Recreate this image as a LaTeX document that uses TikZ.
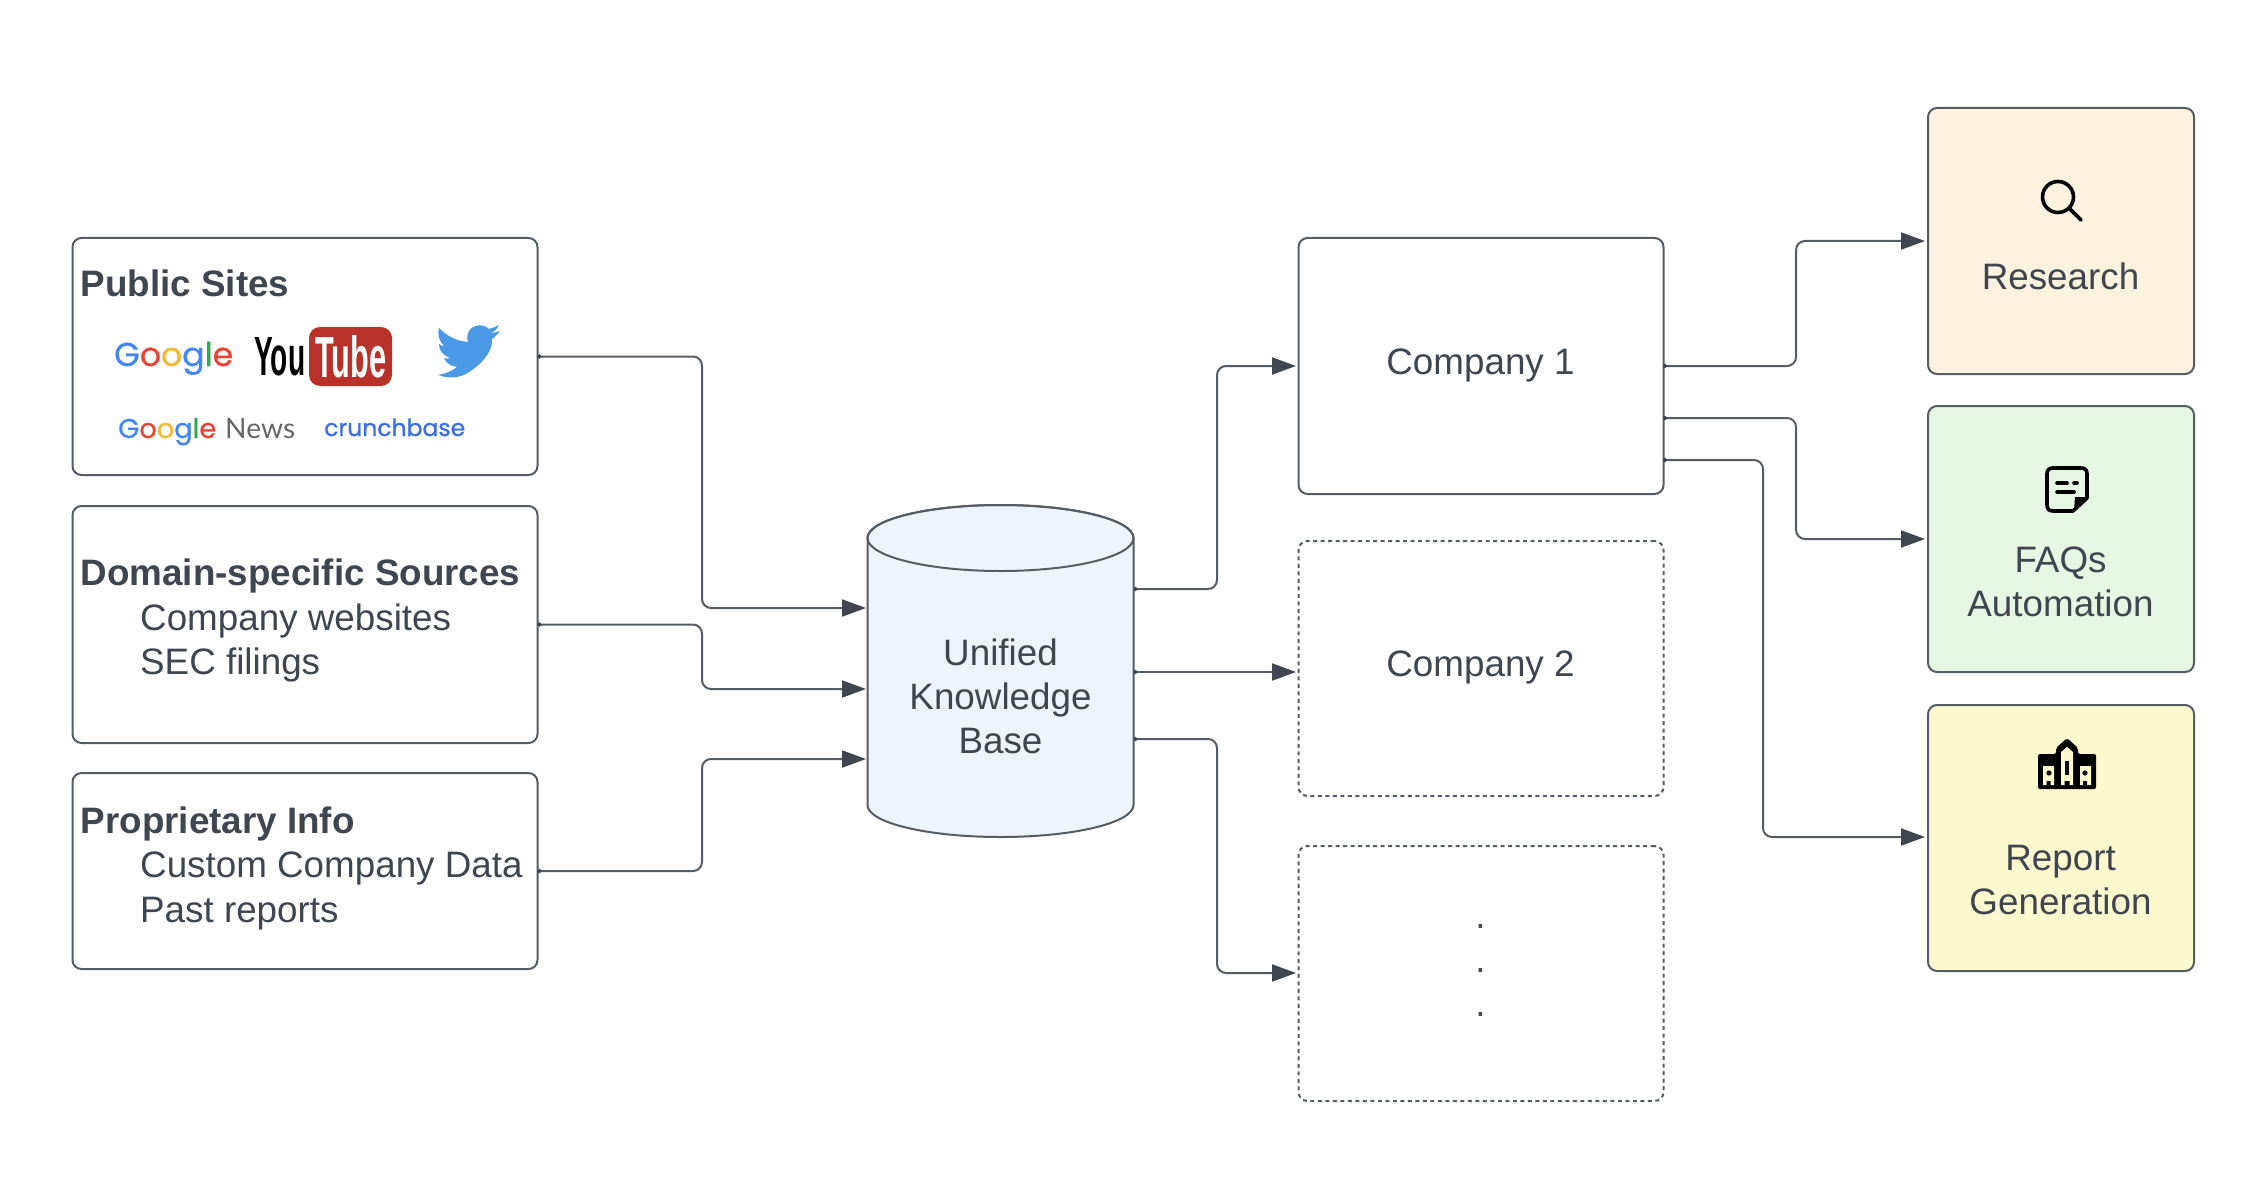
\documentclass[tikz,border=0pt]{standalone}
\usepackage{fontspec}
\usepackage{graphicx}
\setmainfont{Liberation Sans}
\newfontfamily\logofont[FakeBold=0.6]{Poppins}
\newfontfamily\newsfont{Lato}
\newfontfamily\cbfont[FakeBold=1]{Poppins}
\usetikzlibrary{arrows.meta,calc}
\definecolor{ink}{HTML}{3F464F}
\definecolor{edge}{HTML}{565C64}
\definecolor{gblue}{HTML}{4285F4}
\definecolor{gred}{HTML}{EA4335}
\definecolor{gyellow}{HTML}{F2B933}
\definecolor{ggreen}{HTML}{34A853}
\definecolor{ytred}{HTML}{B8322A}
\definecolor{twblue}{HTML}{4A99E6}
\definecolor{cbblue}{HTML}{3B6FE8}
\definecolor{kbfill}{HTML}{EDF4FE}
\definecolor{resfill}{HTML}{FDF2DE}
\definecolor{faqfill}{HTML}{E5F6E3}
\definecolor{repfill}{HTML}{FDF9CF}
\newcommand{\gword}{\textcolor{gblue}{G}\textcolor{gred}{o}\textcolor{gyellow}{o}\textcolor{gblue}{g}\textcolor{ggreen}{l}\textcolor{gred}{e}}
\tikzset{
  x=1pt,y=-1pt,
  box/.style={draw=edge,line width=2pt,rounded corners=9pt,anchor=north west,inner sep=0pt,outer sep=0pt},
  dbox/.style={box,dash pattern=on 4pt off 3.5pt},
  txt/.style={text=ink,font=\fontsize{36.8}{44}\selectfont,inner sep=0pt,align=center},
  ltxt/.style={txt,anchor=base west,align=left},
  btxt/.style={ltxt,font=\fontsize{36.8}{44}\selectfont\bfseries},
  conn/.style={draw=edge,line width=2pt,rounded corners=9pt,{Circle[length=4pt,width=4pt,color=ink]}-{Triangle[length=24pt,width=17pt,color=ink]}},
  icon/.style={draw=black,line width=3.6pt,line cap=round,line join=round},
  logo/.style={inner sep=0pt,anchor=base west}
}
\begin{document}
\begin{tikzpicture}
\useasboundingbox (0,0) rectangle (2266,1182);
\fill[white] (0,0) rectangle (2266,1182);
% source boxes
\node[box,minimum width=465pt,minimum height=237pt] (pub) at (72.5,238) {};
\node[box,minimum width=465pt,minimum height=237pt] (dom) at (72.5,506) {};
\node[box,minimum width=465pt,minimum height=196pt] (pro) at (72.5,773) {};
% source text
\node[btxt] (t1) at (80.5,296) {Public Sites};
\node[btxt] (t2) at (80.5,585) {Domain-specific Sources};
\node[ltxt] (t3) at (140,630) {Company websites};
\node[ltxt] (t4) at (140,674) {SEC filings};
\node[btxt] (t5) at (80.5,833) {Proprietary Info};
\node[ltxt] (t6) at (140,877.5) {Custom Company Data};
\node[ltxt] (t7) at (140,922) {Past reports};
% logos
\node[logo] (lg1) at (114,366) {\resizebox{119pt}{!}{\logofont\gword}};
\node[logo] (lg2) at (254,375) {\resizebox{51pt}{38pt}{\bfseries You}};
\fill[ytred,rounded corners=11pt] (309,327) rectangle (392,386);
\node[logo,text=white] (lg3) at (315,377) {\resizebox{71pt}{42pt}{\bfseries Tube}};
\node[logo] (lg4) at (118,438) {\resizebox{98pt}{!}{\logofont\gword}};
\node[logo,text=black!60] (lg5) at (225,438) {\resizebox{70pt}{!}{\newsfont News}};
\node[logo,text=cbblue] (lg6) at (324,436) {\resizebox{141pt}{!}{\cbfont crunchbase}};
% twitter bird
\fill[twblue] (438,375)
  .. controls (452,380) and (463,377) .. (472,370)
  .. controls (485,361) and (493,349) .. (492,339)
  .. controls (495,337) and (498,334) .. (500,331)
  .. controls (497,332) and (494,333) .. (491,333)
  .. controls (495,331) and (497,329) .. (499,325)
  .. controls (496,327) and (492,328) .. (489,329)
  .. controls (483,323) and (472,325) .. (469,331)
  .. controls (467,335) and (467,338) .. (468,342)
  .. controls (456,341) and (447,336) .. (439,328)
  .. controls (437,334) and (439,341) .. (444,346)
  .. controls (442,346) and (440,345) .. (439,344)
  .. controls (439,351) and (443,355) .. (450,358)
  .. controls (448,359) and (446,359) .. (444,358)
  .. controls (446,363) and (450,366) .. (457,367)
  .. controls (452,371) and (445,374) .. (438,375) -- cycle;
% knowledge base
\path[fill=kbfill,draw=edge,line width=2pt] (867.5,538) -- (867.5,805) arc[start angle=180,end angle=360,x radius=133,y radius=-32] -- (1133.5,538) arc[start angle=0,end angle=180,x radius=133,y radius=-33] -- cycle;
\draw[edge,line width=2pt] (1000.5,538) ellipse[x radius=133,y radius=33];
\node[txt] (kb) at (1000.5,696) {Unified\\Knowledge\\Base};
\coordinate (kbw) at (867.5,697);
\coordinate (kbe) at (1133.5,697);
% companies
\node[box,minimum width=365pt,minimum height=256pt] (c1) at (1298.5,238) {};
\node[dbox,minimum width=365pt,minimum height=255pt] (c2) at (1298.5,541) {};
\node[dbox,minimum width=365pt,minimum height=255pt] (c3) at (1298.5,846) {};
\node[txt] (c1t) at (1480.5,365) {Company 1};
\node[txt] (c2t) at (1480.5,667) {Company 2};
\node[txt] (c3t) at (1480.5,971) {.\\.\\.};
% outcomes
\node[box,fill=resfill,minimum width=266pt,minimum height=266pt] (r1) at (1928,108) {};
\node[box,fill=faqfill,minimum width=266pt,minimum height=266pt] (r2) at (1928,406) {};
\node[box,fill=repfill,minimum width=266pt,minimum height=266pt] (r3) at (1928,705) {};
\node[txt] (r1t) at (2060.5,276) {Research};
\node[txt] (r2t) at (2060.5,581.5) {FAQs\\Automation};
\node[txt] (r3t) at (2060.5,880) {Report\\Generation};
% icons
\draw[icon] (2058,197) circle (15.5) (2069,208) -- (2081,220);
\draw[icon] (2053,468) -- (2081,468) .. controls (2085,468) and (2087,470) .. (2087,474) -- (2087,498) -- (2073,511) -- (2053,511) .. controls (2049,511) and (2047,509) .. (2047,505) -- (2047,474) .. controls (2047,470) and (2049,468) .. (2053,468) -- cycle;
\fill[black] (2087,497) -- (2075,497) -- (2074,511) -- cycle;
\draw[icon] (2057,483) -- (2067,483) (2074,483) -- (2077,483) (2057,492) -- (2074,492);
\fill[black,rounded corners=2pt] (2038,789) -- (2038,754) -- (2056,754) -- (2056,748) -- (2067,738) -- (2078,748) -- (2078,754) -- (2096,754) -- (2096,789) -- cycle;
\fill[repfill] (2043,785) -- (2043,766) -- (2054,766) -- (2054,785) -- cycle
 (2061,785) -- (2061,752) -- (2067,747) -- (2073,752) -- (2073,785) -- cycle
 (2080,785) -- (2080,766) -- (2091,766) -- (2091,785) -- cycle;
\fill[black] (2049,773) circle (2.6) (2085,773) circle (2.6);
\fill[black] (2065,761) rectangle (2069,775);
\fill[black] (2046.5,781) rectangle (2050.5,786) (2064.5,781) rectangle (2069.5,786) (2083,781) rectangle (2087,786);
% connectors
\coordinate (mx) at (702,0);
\coordinate (rx1) at (1217,0);
\coordinate (rx2) at (1796,0);
\coordinate (rx3) at (1763,0);
\coordinate (k1) at ($(kbw)+(-1.5,-89)$);
\coordinate (k2) at ($(kbw)+(-1.5,-8)$);
\coordinate (k3) at ($(kbw)+(-1.5,62)$);
\draw[conn] (pub.east) -- (pub.east -| mx) -- (k1 -| mx) -- (k1);
\draw[conn] (dom.east) -- (dom.east -| mx) -- (k2 -| mx) -- (k2);
\draw[conn] (pro.east) -- (pro.east -| mx) -- (k3 -| mx) -- (k3);
\coordinate (o1) at ($(kbe)+(0,-108)$);
\coordinate (o2) at ($(kbe)+(0,-25)$);
\coordinate (o3) at ($(kbe)+(0,42)$);
\coordinate (i1) at (1296,366);
\coordinate (i2) at (1296,672);
\coordinate (i3) at (1296,973);
\draw[conn] (o1) -- (o1 -| rx1) -- (i1 -| rx1) -- (i1);
\draw[conn] (o2) -- (i2);
\draw[conn] (o3) -- (o3 -| rx1) -- (i3 -| rx1) -- (i3);
\coordinate (p1) at (1663,366);
\coordinate (p2) at (1663,418);
\coordinate (p3) at (1663,460);
\coordinate (q1) at (1925,241);
\coordinate (q2) at (1925,539);
\coordinate (q3) at (1925,837);
\draw[conn] (p1) -- (p1 -| rx2) -- (q1 -| rx2) -- (q1);
\draw[conn] (p2) -- (p2 -| rx2) -- (q2 -| rx2) -- (q2);
\draw[conn] (p3) -- (p3 -| rx3) -- (q3 -| rx3) -- (q3);
\end{tikzpicture}
\end{document}
